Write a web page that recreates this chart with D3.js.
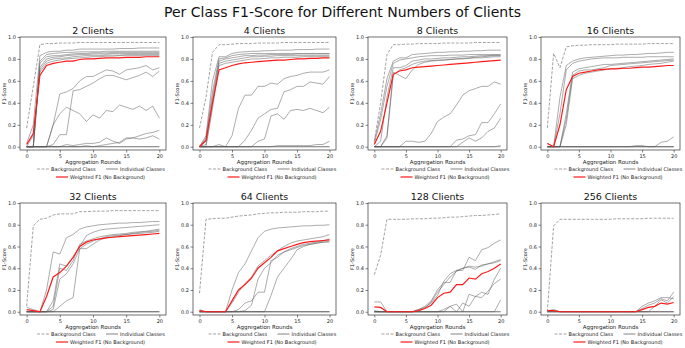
<!DOCTYPE html>
<html>
<head>
<meta charset="utf-8">
<script src="https://cdn.jsdelivr.net/npm/d3@7"></script>
<style>
  body { margin: 0; background: #fff; }
  svg { font-family: "DejaVu Sans", sans-serif; }
</style>
</head>
<body>
<div id="chart"></div>
<script>
// rounds (x axis)
const rounds = [0,1,2,3,4,5,6,7,8,9,10,11,12,13,14,15,16,17,18,19,20];
const clientCounts = [2, 4, 8, 16, 32, 64, 128, 256];
const xTicks = [0, 5, 10, 15, 20];
const yTicks = [0.0, 0.2, 0.4, 0.6, 0.8, 1.0];

// 2 clients
const bg2 = [0.17,0.55,0.93,0.94,0.94,0.945,0.945,0.945,0.95,0.95,0.95,0.95,0.95,0.95,0.95,0.95,0.95,0.95,0.95,0.95,0.95];
const wf2 = [0.02,0.12,0.65,0.74,0.76,0.77,0.78,0.78,0.795,0.80,0.80,0.805,0.81,0.81,0.81,0.815,0.815,0.815,0.82,0.82,0.82];
const cls2 = [
  [0.03,0.20,0.83,0.86,0.87,0.87,0.88,0.88,0.89,0.89,0.89,0.89,0.89,0.89,0.895,0.895,0.895,0.9,0.9,0.9,0.9],
  [0,0,0.78,0.84,0.85,0.855,0.86,0.86,0.865,0.865,0.865,0.865,0.87,0.87,0.87,0.87,0.87,0.87,0.87,0.87,0.87],
  [0,0,0.76,0.82,0.83,0.83,0.84,0.845,0.85,0.85,0.855,0.855,0.855,0.86,0.86,0.86,0.86,0.86,0.86,0.86,0.86],
  [0,0,0.72,0.80,0.815,0.82,0.83,0.835,0.84,0.84,0.845,0.845,0.845,0.85,0.85,0.85,0.85,0.85,0.85,0.85,0.85],
  [0,0,0.70,0.78,0.80,0.805,0.81,0.82,0.825,0.83,0.83,0.83,0.835,0.835,0.835,0.84,0.84,0.84,0.84,0.84,0.84],
  [0,0.10,0.68,0.76,0.78,0.79,0.80,0.805,0.81,0.815,0.82,0.82,0.825,0.825,0.83,0.83,0.83,0.83,0.83,0.83,0.83],
  [0,0,0,0,0.2,0.48,0.5,0.53,0.6,0.64,0.64,0.67,0.7,0.69,0.66,0.7,0.71,0.72,0.74,0.7,0.72],
  [0,0,0,0,0.02,0.11,0.11,0.51,0.52,0.55,0.58,0.62,0.65,0.65,0.63,0.61,0.63,0.65,0.68,0.64,0.69],
  [0,0,0,0,0.2,0.3,0.36,0.33,0.3,0.23,0.29,0.26,0.33,0.32,0.38,0.36,0.34,0.37,0.33,0.37,0.26],
  [0,0,0,0,0,0,0.02,0.01,0.02,0.03,0.03,0.04,0.08,0.05,0.03,0.07,0.08,0.1,0.12,0.13,0.15],
  [0,0,0,0,0,0,0,0,0,0.01,0,0.01,0.02,0.03,0.04,0.08,0.08,0.07,0.08,0.1,0.07],
  [0,0,0,0,0,0,0,0,0,0,0,0,0,0,0,0,0,0,0,0,0],
  [0,0,0,0,0,0,0,0,0,0,0,0,0,0,0,0,0,0,0,0,0]
];

// 4 clients
const bg4 = [0.17,0.45,0.86,0.93,0.93,0.935,0.94,0.94,0.94,0.945,0.945,0.945,0.945,0.95,0.95,0.95,0.95,0.95,0.95,0.95,0.95];
const wf4 = [0,0.06,0.4,0.70,0.72,0.74,0.755,0.765,0.77,0.775,0.78,0.785,0.79,0.79,0.795,0.80,0.80,0.805,0.805,0.81,0.81];
const cls4 = [
  [0,0.1,0.6,0.82,0.82,0.85,0.86,0.865,0.87,0.87,0.875,0.875,0.88,0.88,0.88,0.885,0.885,0.885,0.89,0.89,0.89],
  [0,0.08,0.5,0.80,0.81,0.83,0.84,0.845,0.85,0.85,0.85,0.85,0.85,0.85,0.85,0.85,0.85,0.85,0.85,0.85,0.85],
  [0,0.05,0.45,0.78,0.80,0.81,0.82,0.83,0.83,0.835,0.835,0.84,0.84,0.84,0.84,0.845,0.845,0.845,0.845,0.845,0.845],
  [0,0.02,0.4,0.76,0.78,0.79,0.80,0.81,0.82,0.82,0.825,0.825,0.83,0.83,0.83,0.83,0.83,0.83,0.83,0.83,0.83],
  [0,0,0.35,0.74,0.76,0.77,0.78,0.79,0.80,0.80,0.805,0.81,0.81,0.815,0.815,0.815,0.82,0.82,0.82,0.82,0.82],
  [0,0,0,0,0,0.1,0.35,0.47,0.47,0.55,0.55,0.58,0.57,0.62,0.64,0.65,0.67,0.68,0.68,0.68,0.7],
  [0,0,0,0,0,0,0,0.06,0.15,0.26,0.3,0.34,0.35,0.5,0.52,0.55,0.55,0.59,0.58,0.57,0.64],
  [0,0,0,0,0,0,0,0,0,0.05,0.07,0.28,0.3,0.25,0.33,0.34,0.33,0.35,0.33,0.31,0.36],
  [0,0,0,0.02,0,0,0,0,0,0,0,0,0.01,0.01,0.01,0.01,0.01,0.01,0.02,0.02,0.05],
  [0,0,0,0,0,0,0,0,0,0,0,0,0,0,0,0,0,0,0,0,0],
  [0,0,0,0,0,0,0,0,0,0,0,0,0,0,0,0,0,0,0,0,0]
];

// 8 clients
const bg8 = [0.05,0.4,0.84,0.93,0.93,0.935,0.935,0.94,0.94,0.94,0.94,0.945,0.945,0.945,0.945,0.945,0.95,0.95,0.95,0.95,0.95];
const wf8 = [0.02,0.14,0.4,0.66,0.69,0.70,0.72,0.725,0.73,0.735,0.74,0.745,0.75,0.755,0.76,0.765,0.77,0.775,0.78,0.785,0.79];
const cls8 = [
  [0.05,0.3,0.62,0.78,0.81,0.81,0.84,0.845,0.85,0.855,0.86,0.86,0.865,0.865,0.87,0.87,0.875,0.875,0.88,0.88,0.88],
  [0.03,0.25,0.55,0.76,0.79,0.80,0.81,0.82,0.825,0.83,0.83,0.83,0.835,0.835,0.835,0.84,0.84,0.84,0.84,0.84,0.84],
  [0,0.05,0.45,0.72,0.72,0.74,0.78,0.79,0.80,0.80,0.805,0.81,0.81,0.815,0.82,0.82,0.825,0.83,0.83,0.835,0.835],
  [0,0,0.1,0.68,0.65,0.62,0.70,0.75,0.77,0.78,0.785,0.79,0.795,0.80,0.805,0.81,0.815,0.82,0.825,0.83,0.83],
  [0,0,0.08,0.65,0.70,0.72,0.75,0.77,0.78,0.785,0.79,0.79,0.795,0.80,0.80,0.805,0.81,0.81,0.815,0.82,0.82],
  [0,0,0,0,0,0.05,0.05,0.04,0.05,0.12,0.23,0.27,0.3,0.38,0.47,0.51,0.53,0.55,0.55,0.59,0.57],
  [0,0,0,0,0,0,0,0,0,0,0,0,0,0.06,0.07,0.1,0.11,0.22,0.22,0.3,0.39],
  [0,0,0,0,0,0,0,0,0,0,0,0,0,0,0.04,0.08,0.05,0.08,0.14,0.17,0.26],
  [0,0,0,0,0,0,0,0,0,0,0,0,0,0,0,0,0,0,0,0,0.01],
  [0,0,0,0,0,0,0,0,0,0,0,0,0,0,0,0,0,0,0,0,0]
];

// 16 clients
const bg16 = [0.17,0.85,0.72,0.91,0.92,0.925,0.925,0.93,0.93,0.93,0.93,0.935,0.935,0.935,0.935,0.935,0.94,0.94,0.94,0.94,0.94];
const wf16 = [0.03,0,0.2,0.52,0.64,0.67,0.68,0.69,0.70,0.705,0.71,0.71,0.715,0.715,0.72,0.725,0.725,0.73,0.735,0.74,0.74];
const cls16 = [
  [0.03,0,0.45,0.74,0.78,0.80,0.81,0.815,0.82,0.825,0.83,0.835,0.835,0.84,0.84,0.845,0.85,0.85,0.855,0.86,0.86],
  [0,0,0.3,0.7,0.76,0.78,0.79,0.80,0.805,0.81,0.81,0.81,0.815,0.815,0.815,0.815,0.82,0.82,0.82,0.82,0.82],
  [0,0,0,0.3,0.68,0.71,0.72,0.73,0.74,0.75,0.75,0.755,0.76,0.765,0.77,0.775,0.78,0.785,0.79,0.795,0.8],
  [0,0,0,0.25,0.65,0.69,0.70,0.70,0.71,0.72,0.74,0.745,0.75,0.755,0.76,0.765,0.77,0.775,0.78,0.785,0.79],
  [0,0,0,0.2,0.62,0.65,0.67,0.68,0.69,0.70,0.71,0.715,0.72,0.73,0.735,0.74,0.75,0.755,0.76,0.77,0.78],
  [0,0,0,0,0,0,0,0,0,0,0,0,0,0,0,0,0,0,0.04,0.05,0.09],
  [0,0,0,0,0,0,0,0,0,0,0,0,0,0,0.01,0.01,0,0,0,0,0],
  [0,0,0,0,0,0,0,0,0,0,0,0,0,0,0,0,0,0,0,0,0],
  [0,0,0,0,0,0,0,0,0,0,0,0,0,0,0,0,0,0,0,0,0]
];

// 32 clients
const bg32 = [0.05,0.79,0.85,0.86,0.89,0.9,0.9,0.9,0.92,0.92,0.925,0.925,0.925,0.93,0.93,0.93,0.93,0.93,0.93,0.93,0.93];
const wf32 = [0.02,0.01,0,0.14,0.32,0.36,0.42,0.5,0.6,0.64,0.66,0.67,0.68,0.685,0.69,0.695,0.70,0.705,0.71,0.715,0.72];
const cls32 = [
  [0.04,0.02,0,0.2,0.55,0.53,0.68,0.71,0.76,0.78,0.79,0.8,0.805,0.81,0.815,0.815,0.82,0.82,0.825,0.83,0.83],
  [0,0,0,0,0.1,0.44,0.42,0.5,0.6,0.7,0.73,0.75,0.76,0.765,0.77,0.775,0.78,0.785,0.79,0.795,0.8],
  [0,0,0,0,0.05,0.4,0.38,0.47,0.62,0.65,0.67,0.69,0.7,0.71,0.715,0.72,0.73,0.735,0.74,0.75,0.76],
  [0,0,0,0,0.02,0.3,0.35,0.44,0.58,0.58,0.62,0.66,0.68,0.69,0.70,0.71,0.72,0.73,0.735,0.74,0.75],
  [0,0,0,0,0,0.05,0.1,0.13,0.58,0.62,0.65,0.67,0.69,0.70,0.705,0.71,0.715,0.72,0.725,0.73,0.74],
  [0,0,0,0,0,0,0,0,0,0,0,0,0,0,0,0,0,0,0,0,0],
  [0,0,0,0,0,0,0,0,0,0,0,0,0,0,0,0,0,0,0,0,0],
  [0,0,0,0,0,0,0,0,0,0,0,0,0,0,0,0,0,0,0,0,0]
];

// 64 clients
const bg64 = [0.17,0.85,0.855,0.86,0.86,0.87,0.88,0.885,0.89,0.9,0.905,0.91,0.91,0.915,0.915,0.915,0.92,0.92,0.92,0.925,0.925];
const wf64 = [0.01,0,0,0,0,0.1,0.2,0.25,0.31,0.4,0.45,0.5,0.56,0.58,0.6,0.62,0.635,0.645,0.65,0.655,0.66];
const cls64 = [
  [0,0,0,0,0,0.2,0.36,0.44,0.56,0.68,0.74,0.76,0.77,0.775,0.78,0.785,0.79,0.79,0.795,0.795,0.8],
  [0,0,0,0,0,0.08,0.18,0.26,0.32,0.42,0.47,0.52,0.56,0.6,0.63,0.65,0.66,0.67,0.68,0.69,0.71],
  [0,0,0,0,0,0,0.02,0.08,0.1,0.18,0.18,0.47,0.5,0.55,0.58,0.6,0.62,0.63,0.64,0.65,0.67],
  [0,0,0,0,0,0,0,0.01,0.06,0.3,0.4,0.45,0.52,0.55,0.57,0.59,0.61,0.62,0.63,0.64,0.65],
  [0,0,0,0,0,0,0,0,0,0,0,0.15,0.32,0.4,0.48,0.57,0.6,0.62,0.63,0.64,0.64],
  [0.02,0,0,0,0,0,0,0,0,0,0,0,0,0,0,0,0,0,0,0,0],
  [0,0,0,0,0,0,0,0,0,0,0,0,0,0,0,0,0,0,0,0,0],
  [0,0,0,0,0,0,0,0,0,0,0,0,0,0,0,0,0,0,0,0,0]
];

// 128 clients
const bg128 = [0.34,0.52,0.85,0.85,0.85,0.85,0.855,0.855,0.855,0.86,0.86,0.865,0.87,0.87,0.875,0.88,0.885,0.885,0.89,0.895,0.9];
const wf128 = [0.045,0.04,0,0,0,0,0,0.01,0.03,0.06,0.13,0.17,0.18,0.25,0.25,0.31,0.3,0.35,0.37,0.4,0.44];
const cls128 = [
  [0.09,0.09,0,0,0,0,0,0.02,0.05,0.1,0.2,0.27,0.27,0.38,0.38,0.5,0.47,0.57,0.59,0.63,0.66],
  [0.01,0,0,0,0,0,0,0.02,0.04,0.08,0.15,0.28,0.35,0.38,0.4,0.41,0.39,0.43,0.44,0.46,0.48],
  [0,0,0,0,0,0,0,0.01,0.03,0.09,0.18,0.25,0.32,0.37,0.4,0.42,0.41,0.42,0.44,0.45,0.47],
  [0,0,0,0,0,0,0,0,0,0,0,0.02,0.05,0.07,0,0.16,0.14,0.13,0.19,0.26,0.3],
  [0,0,0,0,0,0,0,0,0,0,0,0,0.05,0,0.08,0.05,0.14,0.18,0.16,0.3,0.4],
  [0,0,0,0,0,0,0,0,0,0,0,0,0,0,0,0,0,0,0,0,0.11],
  [0,0,0,0,0,0,0,0,0,0,0,0,0,0,0,0,0,0,0,0,0],
  [0,0,0,0,0,0,0,0,0,0,0,0,0,0,0,0,0,0,0,0,0]
];

// 256 clients
const bg256 = [0,0.79,0.85,0.85,0.85,0.85,0.85,0.85,0.85,0.85,0.85,0.855,0.855,0.855,0.855,0.855,0.86,0.86,0.86,0.86,0.86];
const wf256 = [0.01,0.01,0,0,0,0,0,0,0,0,0,0,0,0,0,0.02,0.04,0.05,0.08,0.07,0.085];
const cls256 = [
  [0.01,0.02,0,0,0,0,0,0,0,0,0,0,0,0,0,0.05,0.08,0.1,0.13,0.13,0.12],
  [0,0,0,0,0,0,0,0,0,0,0,0,0,0,0,0.03,0.06,0.08,0.12,0.1,0.18],
  [0,0,0,0,0,0,0,0,0,0,0,0,0,0,0,0,0,0.05,0.11,0.08,0.14],
  [0,0.01,0,0,0,0,0,0,0,0,0,0,0,0,0,0,0,0,0,0,0],
  [0,0,0,0,0,0,0,0,0,0,0,0,0,0,0,0,0,0,0,0,0],
  [0,0,0,0,0,0,0,0,0,0,0,0,0,0,0,0,0,0,0,0,0]
];

const backgrounds = [bg2, bg4, bg8, bg16, bg32, bg64, bg128, bg256];
const weighted = [wf2, wf4, wf8, wf16, wf32, wf64, wf128, wf256];
const classSets = [cls2, cls4, cls8, cls16, cls32, cls64, cls128, cls256];

const W = 685, H = 348;
const colLeft = [20, 193, 368, 541];
const colRight = [166, 336, 507, 680];
const rowTop = [37, 203];
const rowBottom = [150, 315];

const svg = d3.select("#chart").append("svg")
  .attr("width", W).attr("height", H);

svg.append("text")
  .attr("x", W / 2).attr("y", 17)
  .attr("text-anchor", "middle")
  .style("font-size", "14px")
  .attr("fill", "#111")
  .text("Per Class F1-Score for Different Numbers of Clients");

clientCounts.forEach(function(n, i) {
  const r = Math.floor(i / 4), c = i % 4;
  const x0 = colLeft[c], x1 = colRight[c], y0 = rowTop[r], y1 = rowBottom[r];

  const x = d3.scaleLinear().domain([-1, 21]).range([x0, x1]);
  const y = d3.scaleLinear().domain([-0.03, 1.0]).range([y1, y0]);
  const line = d3.line().x((d, k) => x(rounds[k])).y(d => y(d));

  const g = svg.append("g");

  // individual classes
  g.selectAll(".cls").data(classSets[i]).enter()
    .append("path")
    .attr("d", line)
    .attr("fill", "none")
    .attr("stroke", "#555")
    .attr("stroke-opacity", 0.55)
    .attr("stroke-width", 0.9);

  // background class
  g.append("path")
    .attr("d", line(backgrounds[i]))
    .attr("fill", "none")
    .attr("stroke", "#999")
    .attr("stroke-width", 0.9)
    .attr("stroke-dasharray", "3,1.5");

  // weighted F1
  g.append("path")
    .attr("d", line(weighted[i]))
    .attr("fill", "none")
    .attr("stroke", "#ff1a1a")
    .attr("stroke-width", 1.2);

  // frame
  g.append("rect")
    .attr("x", x0).attr("y", y0)
    .attr("width", x1 - x0).attr("height", y1 - y0)
    .attr("fill", "none")
    .attr("stroke", "#333")
    .attr("stroke-width", 0.7);

  // axes
  g.append("g")
    .attr("transform", "translate(0," + y1 + ")")
    .call(d3.axisBottom(x).tickValues(xTicks).tickSize(2.5).tickPadding(1.5).tickFormat(d3.format("d")))
    .call(a => a.select(".domain").remove())
    .call(a => a.selectAll("line").attr("stroke", "#333").attr("stroke-width", 0.6))
    .call(a => a.selectAll("text").style("font-size", "5px").attr("fill", "#222").style("font-family", "DejaVu Sans"));

  g.append("g")
    .attr("transform", "translate(" + x0 + ",0)")
    .call(d3.axisLeft(y).tickValues(yTicks).tickSize(2.5).tickPadding(1.5).tickFormat(d3.format(".1f")))
    .call(a => a.select(".domain").remove())
    .call(a => a.selectAll("line").attr("stroke", "#333").attr("stroke-width", 0.6))
    .call(a => a.selectAll("text").style("font-size", "5px").attr("fill", "#222").style("font-family", "DejaVu Sans"));

  const cx = (x0 + x1) / 2;

  g.append("text")
    .attr("x", cx).attr("y", y0 - 3)
    .attr("text-anchor", "middle")
    .style("font-size", "9.5px")
    .attr("fill", "#111")
    .text(n + " Clients");

  g.append("text")
    .attr("x", cx).attr("y", y1 + 14)
    .attr("text-anchor", "middle")
    .style("font-size", "5.5px")
    .attr("fill", "#222")
    .text("Aggregation Rounds");

  g.append("text")
    .attr("transform", "translate(" + (x0 - 14) + "," + ((y0 + y1) / 2) + ") rotate(-90)")
    .attr("text-anchor", "middle")
    .style("font-size", "5px")
    .attr("fill", "#222")
    .text("F1-Score");

  // legend
  const lg = g.append("g").attr("transform", "translate(" + (cx + 3) + "," + (y1 + 19) + ")");
  const row1 = lg.append("g").attr("transform", "translate(-59,0)");
  row1.append("line").attr("x1", 0).attr("x2", 12).attr("y1", 0).attr("y2", 0)
    .attr("stroke", "#999").attr("stroke-width", 0.9).attr("stroke-dasharray", "3,1.5");
  row1.append("text").attr("x", 14).attr("y", 1.8).style("font-size", "5px").attr("fill", "#222")
    .text("Background Class");
  row1.append("line").attr("x1", 69).attr("x2", 81).attr("y1", 0).attr("y2", 0)
    .attr("stroke", "#777").attr("stroke-width", 0.9);
  row1.append("text").attr("x", 83).attr("y", 1.8).style("font-size", "5px").attr("fill", "#222")
    .text("Individual Classes");
  const row2 = lg.append("g").attr("transform", "translate(-40,8)");
  row2.append("line").attr("x1", 0).attr("x2", 12).attr("y1", 0).attr("y2", 0)
    .attr("stroke", "#ff1a1a").attr("stroke-width", 1.2);
  row2.append("text").attr("x", 14).attr("y", 1.8).style("font-size", "5px").attr("fill", "#222")
    .text("Weighted F1 (No Background)");
});
</script>
</body>
</html>
